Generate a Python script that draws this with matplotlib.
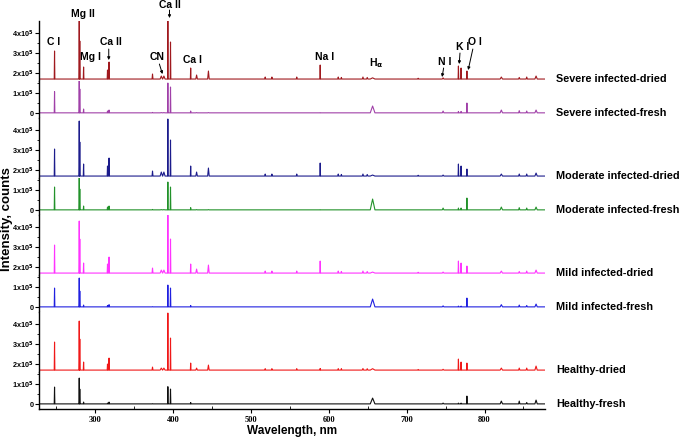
import numpy as np
import matplotlib
matplotlib.use('Agg')
import matplotlib.pyplot as plt

plt.rcParams['font.family'] = ['Liberation Sans', 'DejaVu Sans']
plt.rcParams['mathtext.default'] = 'bf'

# emission lines (nm) and their drawn half widths
peak_nm = [247.9, 279.6, 280.3, 285.2, 315.9, 317.9, 373.7, 385.0, 388.3, 393.4, 396.8,
           422.7, 430.3, 445.5, 518.4, 527.0, 558.9, 589.0, 612.2, 616.2, 643.9, 649.4,
           656.3, 714.8, 746.8, 766.5, 769.9, 777.4, 821.6, 844.6, 854.2, 866.2]
peak_hw = [0.4, 0.4, 0.4, 0.4, 0.4, 0.4, 0.6, 1.5, 1.5, 0.4, 0.4,
           0.4, 1.0, 1.0, 0.6, 0.6, 0.6, 0.4, 0.6, 0.6, 0.8, 0.8,
           3.0, 0.6, 1.0, 0.4, 0.4, 0.4, 1.5, 0.8, 0.8, 1.5]

samples = ['Severe infected-dried', 'Severe infected-fresh',
           'Moderate infected-dried', 'Moderate infected-fresh',
           'Mild infected-dried', 'Mild infected-fresh',
           'Healthy-dried', 'Healthy-fresh']
colours = ['#a0191e', '#a040a8', '#1c1c8c', '#22922a',
           '#ff33ff', '#2020e0', '#f01818', '#101010']
baseline = [1.7, 0.01, 1.7, 0.01, 1.7, 0.01, 1.7, 0.01]  # x10^5 counts

# peak tops, x10^5 counts
severe_dried = [3.1, 4.6, 3.6, 2.3, 2.15, 2.55, 1.95, 1.85, 1.85, 4.6, 3.55,
                2.25, 1.9, 2.1, 1.8, 1.8, 1.8, 2.4, 1.8, 1.78, 1.8, 1.78,
                1.76, 1.74, 1.76, 2.35, 2.25, 2.1, 1.8, 1.78, 1.8, 1.85]
severe_fresh = [1.07, 1.8, 1.2, 0.2, 0.1, 0.15, 0.03, 0.02, 0.02, 1.5, 1.3,
                0.1, 0.02, 0.02, 0.01, 0.01, 0.01, 0.02, 0.01, 0.01, 0.01, 0.01,
                0.35, 0.01, 0.1, 0.08, 0.08, 0.5, 0.15, 0.12, 0.1, 0.15]
moderate_dried = [3.05, 4.45, 3.4, 2.3, 2.2, 2.6, 1.95, 1.9, 1.9, 4.55, 3.5,
                  2.2, 1.9, 2.1, 1.8, 1.8, 1.8, 2.35, 1.8, 1.78, 1.8, 1.78,
                  1.75, 1.74, 1.75, 2.3, 2.2, 2.05, 1.8, 1.8, 1.8, 1.85]
moderate_fresh = [1.15, 1.8, 1.05, 0.2, 0.15, 0.2, 0.03, 0.02, 0.02, 1.4, 1.15,
                  0.12, 0.02, 0.02, 0.01, 0.01, 0.01, 0.02, 0.01, 0.01, 0.01, 0.01,
                  0.55, 0.01, 0.1, 0.1, 0.1, 0.6, 0.15, 0.12, 0.1, 0.15]
mild_dried = [3.1, 4.3, 3.4, 2.2, 2.15, 2.5, 1.95, 1.85, 1.85, 4.6, 3.4,
              2.15, 1.9, 2.1, 1.8, 1.8, 1.8, 2.3, 1.8, 1.78, 1.8, 1.78,
              1.75, 1.74, 1.75, 2.3, 2.2, 2.05, 1.8, 1.78, 1.8, 1.85]
mild_fresh = [0.95, 1.45, 0.8, 0.1, 0.08, 0.12, 0.02, 0.01, 0.01, 1.1, 0.95,
              0.08, 0.01, 0.01, 0.01, 0.01, 0.01, 0.01, 0.01, 0.01, 0.01, 0.01,
              0.4, 0.01, 0.06, 0.05, 0.05, 0.45, 0.12, 0.1, 0.08, 0.15]
healthy_dried = [3.1, 4.15, 3.25, 2.1, 2.0, 2.3, 1.85, 1.8, 1.8, 4.55, 3.3,
                 2.05, 1.8, 1.95, 1.77, 1.77, 1.77, 1.78, 1.77, 1.77, 1.78, 1.77,
                 1.77, 1.73, 1.74, 2.25, 2.1, 2.05, 1.8, 1.8, 1.8, 1.9]
healthy_fresh = [0.85, 1.3, 0.75, 0.1, 0.05, 0.1, 0.02, 0.01, 0.01, 0.87, 0.75,
                 0.08, 0.01, 0.01, 0.01, 0.01, 0.01, 0.01, 0.01, 0.01, 0.01, 0.01,
                 0.3, 0.01, 0.05, 0.05, 0.05, 0.4, 0.15, 0.15, 0.08, 0.2]
spectra = [severe_dried, severe_fresh, moderate_dried, moderate_fresh,
           mild_dried, mild_fresh, healthy_dried, healthy_fresh]

# line labels on top panel: text, wavelength, height (x10^5)
line_labels = [('C I', 246, 3.55), ('Mg II', 284, 4.95), ('Mg I', 293.5, 2.8),
               ('Ca II', 320, 3.55), ('CN', 379.5, 2.8), ('Ca II', 396.5, 5.4),
               ('Ca I', 425, 2.65), ('Na I', 594, 2.8), ('H$_\\alpha$', 661, 2.5),
               ('N I', 749, 2.55), ('K I', 772, 3.3), ('O I', 788, 3.55)]
# arrows: (from wl, from y, to wl, to y)
arrows = [(317.5, 3.2, 317.5, 2.65), (382.5, 2.45, 386.5, 1.95),
          (395.5, 5.15, 395.5, 4.75), (747.5, 2.25, 745.5, 1.8),
          (768.5, 3.0, 767.5, 2.45), (785, 3.2, 779, 2.15)]

x_lo, x_hi = 228, 878


def stick(base, tops):
    xs, ys = [x_lo], [base]
    for w, hw, t in zip(peak_nm, peak_hw, tops):
        xs += [w - hw, w, w + hw]
        ys += [base, t, base]
    xs.append(x_hi)
    ys.append(base)
    return np.array(xs), np.array(ys) * 1e5


fig = plt.figure(figsize=(6.85, 4.38), dpi=100)
gs = fig.add_gridspec(8, 1, height_ratios=[60, 37] * 4, hspace=0,
                      left=0.057, right=0.796, top=0.952, bottom=0.066)
axes = []
for i in range(8):
    ax = fig.add_subplot(gs[i], sharex=axes[0] if axes else None)
    axes.append(ax)

for i, ax in enumerate(axes):
    xs, ys = stick(baseline[i], spectra[i])
    ax.plot(xs, ys, color=colours[i], lw=0.8)
    dried = i % 2 == 0
    if dried:
        ax.set_ylim(1.6e5, 4.6e5)
        ax.set_yticks([2e5, 3e5, 4e5])
        ax.set_yticklabels(['2x10$^5$', '3x10$^5$', '4x10$^5$'])
        ax.set_yticks([2.5e5, 3.5e5], minor=True)
    else:
        ax.set_ylim(-0.25e5, 1.6e5)
        ax.set_yticks([0, 1e5])
        ax.set_yticklabels(['0', '1x10$^5$'])
        ax.set_yticks([0.5e5, 1.5e5], minor=True)
    ax.tick_params(axis='y', which='major', direction='out', length=3, width=0.8,
                   labelsize=5.2, pad=1)
    ax.tick_params(axis='y', which='minor', direction='out', length=1.5, width=0.6)
    for lab in ax.get_yticklabels():
        lab.set_fontweight('bold')
    ax.spines['top'].set_visible(False)
    ax.spines['right'].set_visible(False)
    ax.spines['left'].set_linewidth(1.0)
    if i < 7:
        ax.spines['bottom'].set_visible(False)
        ax.tick_params(axis='x', which='both', bottom=False, labelbottom=False)
    ax.text(892, baseline[i] * 1e5, samples[i], fontsize=7.8, fontweight='bold',
            ha='left', va='center', clip_on=False)

ax = axes[-1]
ax.set_xlim(x_lo, x_hi)
ax.set_xticks([300, 400, 500, 600, 700, 800])
ax.set_xticks([250, 350, 450, 550, 650, 750, 850], minor=True)
ax.tick_params(axis='x', which='major', direction='out', length=3, width=0.8,
               labelsize=6, pad=2)
ax.tick_params(axis='x', which='minor', direction='in', length=2, width=0.6)
for lab in ax.get_xticklabels():
    lab.set_fontfamily('Liberation Serif')
    lab.set_fontweight('bold')
ax.spines['bottom'].set_linewidth(1.0)
ax.set_xlabel('Wavelength, nm', fontsize=8.5, fontweight='bold', labelpad=1)

fig.text(0.0095, 0.5, 'Intensity, counts', rotation=90, fontsize=9.5,
         fontweight='bold', ha='center', va='center')

top = axes[0]
for txt, wl, yv in line_labels:
    top.text(wl, yv * 1e5, txt, fontsize=7.5, fontweight='bold',
             ha='center', va='center', clip_on=False)
for x0, y0, x1, y1 in arrows:
    top.annotate('', xy=(x1, y1 * 1e5), xytext=(x0, y0 * 1e5),
                 arrowprops=dict(arrowstyle='-|>', lw=0.7, color='k',
                                 mutation_scale=4, shrinkA=0, shrinkB=0),
                 annotation_clip=False)

fig.savefig('out.png', dpi=100)
